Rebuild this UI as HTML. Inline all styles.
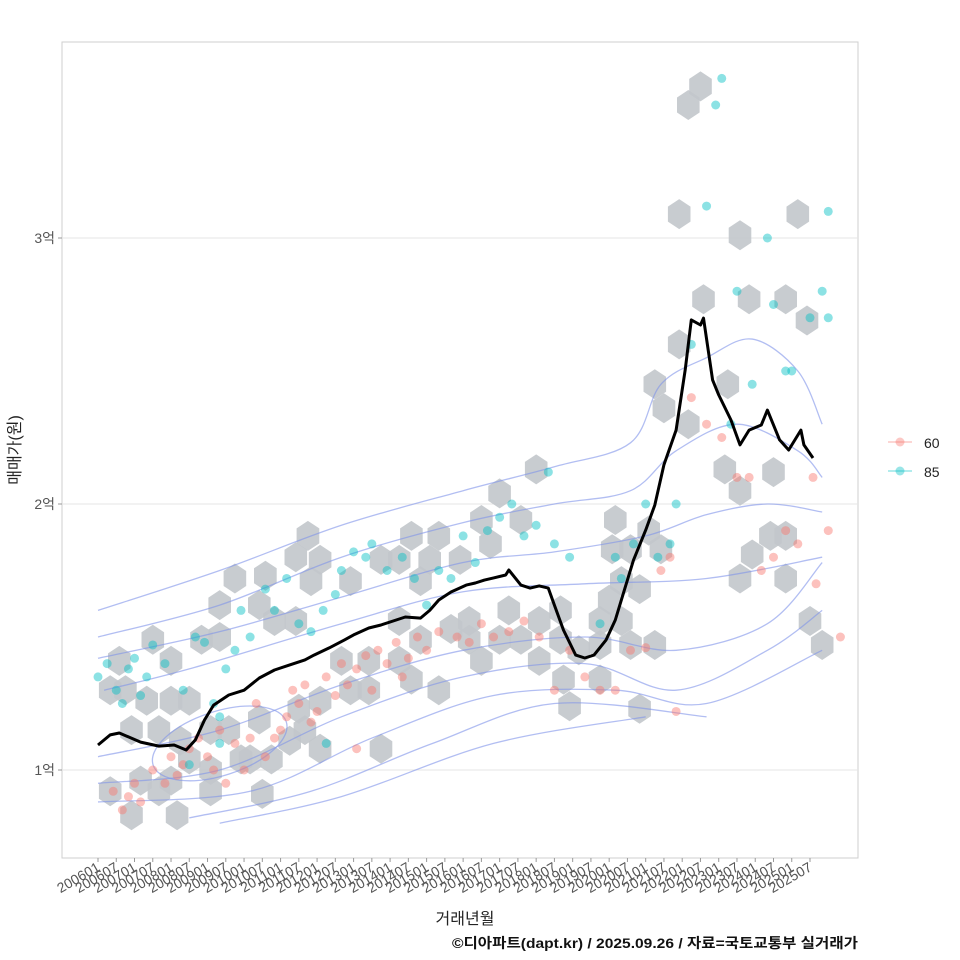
<!DOCTYPE html>
<html><head><meta charset="utf-8">
<style>
html,body{margin:0;padding:0;background:#fff;}
svg{display:block;font-family:"Liberation Sans","Noto Sans CJK KR",sans-serif;}
</style></head>
<body>
<svg id="chart" width="960" height="960" viewBox="0 0 960 960" xmlns="http://www.w3.org/2000/svg">
<rect x="0" y="0" width="960" height="960" fill="#fff"/>
<rect x="62" y="42" width="796" height="816" fill="#fff" stroke="#cfcfcf" stroke-width="1"/>
<g id="grid"></g>
<g id="hexes"></g>
<g id="contours"></g>
<g id="points"></g>
<g id="trend"></g>
<g id="yaxis"></g>
<g id="xaxis"></g>
<text x="20" y="450" transform="rotate(-90 20 450)" text-anchor="middle" font-size="16" fill="#222">매매가(원)</text>
<text x="465" y="924" text-anchor="middle" font-size="16" fill="#222">거래년월</text>
<text x="452" y="948" textLength="406" lengthAdjust="spacingAndGlyphs" font-size="14" font-weight="bold" fill="#111">©디아파트(dapt.kr) / 2025.09.26 / 자료=국토교통부 실거래가</text>
<g>
  <g>
    <line x1="888" y1="442" x2="912" y2="442" stroke="#F8766D" stroke-opacity="0.4" stroke-width="1.5"/>
    <circle cx="900" cy="442" r="4.5" fill="#F8766D" fill-opacity="0.4"/>
    <text x="924" y="448" font-size="14" fill="#222">60</text>
  </g>
  <g>
    <line x1="888" y1="471" x2="912" y2="471" stroke="#00BFC4" stroke-opacity="0.4" stroke-width="1.5"/>
    <circle cx="900" cy="471" r="4.5" fill="#00BFC4" fill-opacity="0.4"/>
    <text x="924" y="477" font-size="14" fill="#222">85</text>
  </g>
</g>
</svg>
<script>
// ---- data (month index from 2006-01, value in 억) ----
const yTicks = [1, 2, 3];
const yTickLabels = ["1억", "2억", "3억"];
const xTickLabels = ["200601","200607","200701","200707","200801","200807","200901","200907","201001","201007","201101","201107","201201","201207","201301","201307","201401","201407","201501","201507","201601","201607","201701","201707","201801","201807","201901","201907","202001","202007","202101","202107","202201","202207","202301","202307","202401","202407","202501","202507"];
const trendMonths = [0,4,7,14,20,25,29,32,35,38,43,48,53,58,63,68,71,76,81,84,89,93,98,101,106,109,112,116,121,124,127,130,134,135,139,142,145,148,150,153,157,160,163,167,170,173,176,180,183,186,190,193,195,198,199,202,204,208,211,214,218,220,224,227,231,232,235];
const trendValues = [1.094,1.132,1.139,1.105,1.09,1.094,1.075,1.113,1.188,1.244,1.282,1.30,1.346,1.376,1.395,1.414,1.432,1.459,1.489,1.508,1.534,1.545,1.564,1.575,1.571,1.60,1.639,1.669,1.695,1.703,1.714,1.722,1.733,1.752,1.695,1.684,1.692,1.684,1.62,1.526,1.432,1.421,1.432,1.489,1.564,1.677,1.789,1.902,1.996,2.147,2.278,2.504,2.692,2.673,2.699,2.466,2.41,2.316,2.222,2.278,2.297,2.353,2.241,2.203,2.278,2.222,2.173];
const hexMonths = [198,194,191,211,230,199,214,226,233,234,238,191,194,207,183,186,206,211,222,221,226,211,215,226,144,132,139,126,112,103,109,99,119,129,106,93,69,73,65,83,70,55,45,40,53,58,65,40,34,24,18,7,4,9,16,24,30,11,20,27,37,43,50,57,63,68,73,83,89,80,89,99,106,99,116,122,135,139,145,152,126,112,103,93,73,66,53,47,37,30,24,14,4,11,20,26,37,54,170,175,169,172,181,185,178,168,165,158,153,155,165,175,183,178,172,165,152,145,132,122];
const hexValues = [3.57,3.50,3.09,3.01,3.09,2.77,2.77,2.77,2.69,1.56,1.47,2.60,2.30,2.45,2.45,2.36,2.13,2.05,2.12,1.88,1.88,1.72,1.81,1.72,2.13,2.04,1.94,1.94,1.88,1.88,1.79,1.79,1.79,1.85,1.71,1.79,1.88,1.79,1.80,1.71,1.71,1.73,1.72,1.62,1.62,1.56,1.56,1.50,1.49,1.41,1.49,1.41,1.30,1.30,1.26,1.26,1.26,1.15,1.15,1.11,1.15,1.15,1.04,1.04,1.11,1.15,1.26,1.30,1.30,1.41,1.41,1.41,1.49,1.56,1.53,1.56,1.60,1.49,1.56,1.49,1.41,1.30,1.34,1.08,1.08,1.23,1.19,1.04,1.00,1.04,0.96,0.96,0.92,0.83,0.92,0.83,0.92,0.91,1.94,1.83,1.83,1.71,1.90,1.83,1.68,1.64,1.56,1.45,1.34,1.24,1.47,1.47,1.47,1.23,1.56,1.34,1.60,1.41,1.49,1.49];
const red60Months = [5,8,10,12,14,18,22,24,26,28,30,33,36,38,40,42,45,48,50,52,55,58,60,62,64,66,68,70,72,75,78,80,82,85,88,90,92,95,98,100,102,105,108,112,118,122,126,130,135,140,145,150,155,160,165,170,175,180,185,188,190,195,200,205,210,214,218,222,226,230,236,240,244,235,85];
const red60Values = [0.92,0.85,0.9,0.95,0.88,1.0,0.95,1.05,0.98,1.02,1.08,1.12,1.05,1.0,1.15,0.95,1.1,1.0,1.12,1.25,1.05,1.12,1.15,1.2,1.3,1.25,1.32,1.18,1.22,1.35,1.28,1.4,1.32,1.38,1.43,1.3,1.45,1.4,1.48,1.35,1.42,1.5,1.45,1.52,1.5,1.48,1.55,1.5,1.52,1.56,1.5,1.3,1.45,1.35,1.3,1.3,1.45,1.46,1.75,1.8,1.22,2.4,2.3,2.25,2.1,2.1,1.75,1.8,1.9,1.85,1.7,1.9,1.5,2.1,1.08];
const cyan85Months = [0,3,6,8,10,12,14,16,18,22,28,32,35,38,40,42,45,47,50,55,58,62,66,70,74,78,80,84,88,90,95,100,104,108,112,116,120,124,128,132,136,140,144,148,150,155,165,170,172,176,180,184,188,190,195,200,203,205,210,208,215,220,222,226,228,234,238,240,240,30,40,75];
const cyan85Values = [1.35,1.4,1.3,1.25,1.38,1.42,1.28,1.35,1.47,1.4,1.3,1.5,1.48,1.25,1.2,1.38,1.45,1.6,1.5,1.68,1.6,1.72,1.55,1.52,1.6,1.66,1.75,1.82,1.8,1.85,1.75,1.8,1.72,1.62,1.75,1.72,1.88,1.78,1.9,1.95,2.0,1.88,1.92,2.12,1.85,1.8,1.55,1.8,1.72,1.85,2.0,1.8,1.85,2.0,2.6,3.12,3.5,3.6,2.8,2.3,2.45,3.0,2.75,2.5,2.5,2.7,2.8,2.7,3.1,1.02,1.1,1.1];
const contourMonths = [
 [0,40,80,120,150,175,185,200,215,230,238],
 [0,40,80,120,150,175,190,210,230,238],
 [0,40,80,120,150,180,200,220,238],
 [2,30,80,120,160,200,238],
 [0,40,80,120,160,190,220,238],
 [0,40,80,120,160,190,220,238],
 [0,50,90,130,170,200,238],
 [30,70,110,150,200],
 [40,80,130,180]
];
const contourValues = [
 [1.60,1.75,1.92,2.05,2.14,2.23,2.45,2.55,2.62,2.5,2.3],
 [1.50,1.62,1.80,1.93,2.0,2.05,2.2,2.3,2.2,2.1],
 [1.42,1.52,1.65,1.78,1.82,1.88,1.96,2.0,1.97],
 [1.3,1.38,1.55,1.67,1.7,1.72,1.8],
 [1.05,1.15,1.32,1.45,1.5,1.45,1.55,1.78],
 [0.95,1.0,1.2,1.35,1.4,1.3,1.45,1.6],
 [0.88,0.92,1.12,1.28,1.3,1.25,1.45],
 [0.82,0.92,1.1,1.25,1.2],
 [0.8,0.9,1.1,1.2]
];

// ---- scales ----
const X0 = 98, XPM = 712/234, Y1 = 770, YPU = 266;
const xs = m => X0 + m * XPM;
const ys = v => Y1 - (v - 1) * YPU;
const NS = "http://www.w3.org/2000/svg";
function mk(tag, attrs, parent){
  const e = document.createElementNS(NS, tag);
  for (const k in attrs) e.setAttribute(k, attrs[k]);
  parent.appendChild(e);
  return e;
}
function smooth(pts){
  let d = "M" + pts[0][0] + "," + pts[0][1];
  for (let i = 0; i < pts.length - 1; i++){
    const p0 = pts[Math.max(0,i-1)], p1 = pts[i], p2 = pts[i+1], p3 = pts[Math.min(pts.length-1,i+2)];
    const c1x = p1[0] + (p2[0]-p0[0])/6, c1y = p1[1] + (p2[1]-p0[1])/6;
    const c2x = p2[0] - (p3[0]-p1[0])/6, c2y = p2[1] - (p3[1]-p1[1])/6;
    d += " C" + c1x + "," + c1y + " " + c2x + "," + c2y + " " + p2[0] + "," + p2[1];
  }
  return d;
}

// grid
const grid = document.getElementById("grid");
yTicks.forEach(v => {
  const l = mk("line", {x1:62, x2:858, y1:ys(v), y2:ys(v), stroke:"#e6e6e6", "stroke-width":1}, grid);
  
  
});

// hexes
const hg = document.getElementById("hexes");
const R = 15;
hexMonths.forEach((m, i) => {
  const cx = xs(m), cy = ys(hexValues[i]);
  let pts = [];
  for (let k = 0; k < 6; k++){
    const a = Math.PI/180 * (60*k - 90);
    pts.push((cx + R*Math.cos(a)*0.87).toFixed(1) + "," + (cy + R*Math.sin(a)).toFixed(1));
  }
  const p = mk("polygon", {points: pts.join(" "), fill:"#c2c6cb", "fill-opacity":0.9}, hg);
  
  
});

// contours
const cg = document.getElementById("contours");
contourMonths.forEach((ms, i) => {
  const pts = ms.map((m, j) => [xs(m), ys(contourValues[i][j])]);
  const p = mk("path", {d: smooth(pts), fill:"none", stroke:"#7f93ea", "stroke-opacity":0.6, "stroke-width":1.3}, cg);
  
  
});
const ell = mk("ellipse", {cx: xs(40), cy: ys(1.1), rx: 70, ry: 32, transform:"rotate(-18 " + xs(40) + " " + ys(1.1) + ")", fill:"none", stroke:"#7f93ea", "stroke-opacity":0.6, "stroke-width":1.3}, cg);



// points
const pg = document.getElementById("points");
red60Months.forEach((m, i) => {
  const c = mk("circle", {cx: xs(m), cy: ys(red60Values[i]), r: 4.5, fill:"#F8766D", "fill-opacity":0.45}, pg);
  
  
});
cyan85Months.forEach((m, i) => {
  const c = mk("circle", {cx: xs(m), cy: ys(cyan85Values[i]), r: 4.5, fill:"#00BFC4", "fill-opacity":0.45}, pg);
  
  
});

// trend line
const tg = document.getElementById("trend");
const tl = mk("polyline", {points: trendMonths.map((m,i) => xs(m).toFixed(1) + "," + ys(trendValues[i]).toFixed(1)).join(" "), fill:"none", stroke:"#000", "stroke-width":3, "stroke-linejoin":"round"}, tg);



// y axis
const ya = document.getElementById("yaxis");
yTicks.forEach((v, i) => {
  const t = mk("line", {x1:58, x2:62, y1:ys(v), y2:ys(v), stroke:"#999"}, ya);
  
  
  const tx = mk("text", {x:55, y:ys(v)+5, "text-anchor":"end", "font-size":14, fill:"#555"}, ya);
  tx.textContent = yTickLabels[i];
  
  
});

// x axis
const xa = document.getElementById("xaxis");
xTickLabels.forEach((lab, i) => {
  const x = xs(i*6);
  const t = mk("line", {x1:x, x2:x, y1:858, y2:862, stroke:"#999"}, xa);
  
  
  const tx = mk("text", {x:x+3, y:870, "text-anchor":"end", "font-size":14, fill:"#555", transform:"rotate(-30 " + (x+3) + " 870)"}, xa);
  tx.textContent = lab;
  
  
});
</script>
</body></html>
